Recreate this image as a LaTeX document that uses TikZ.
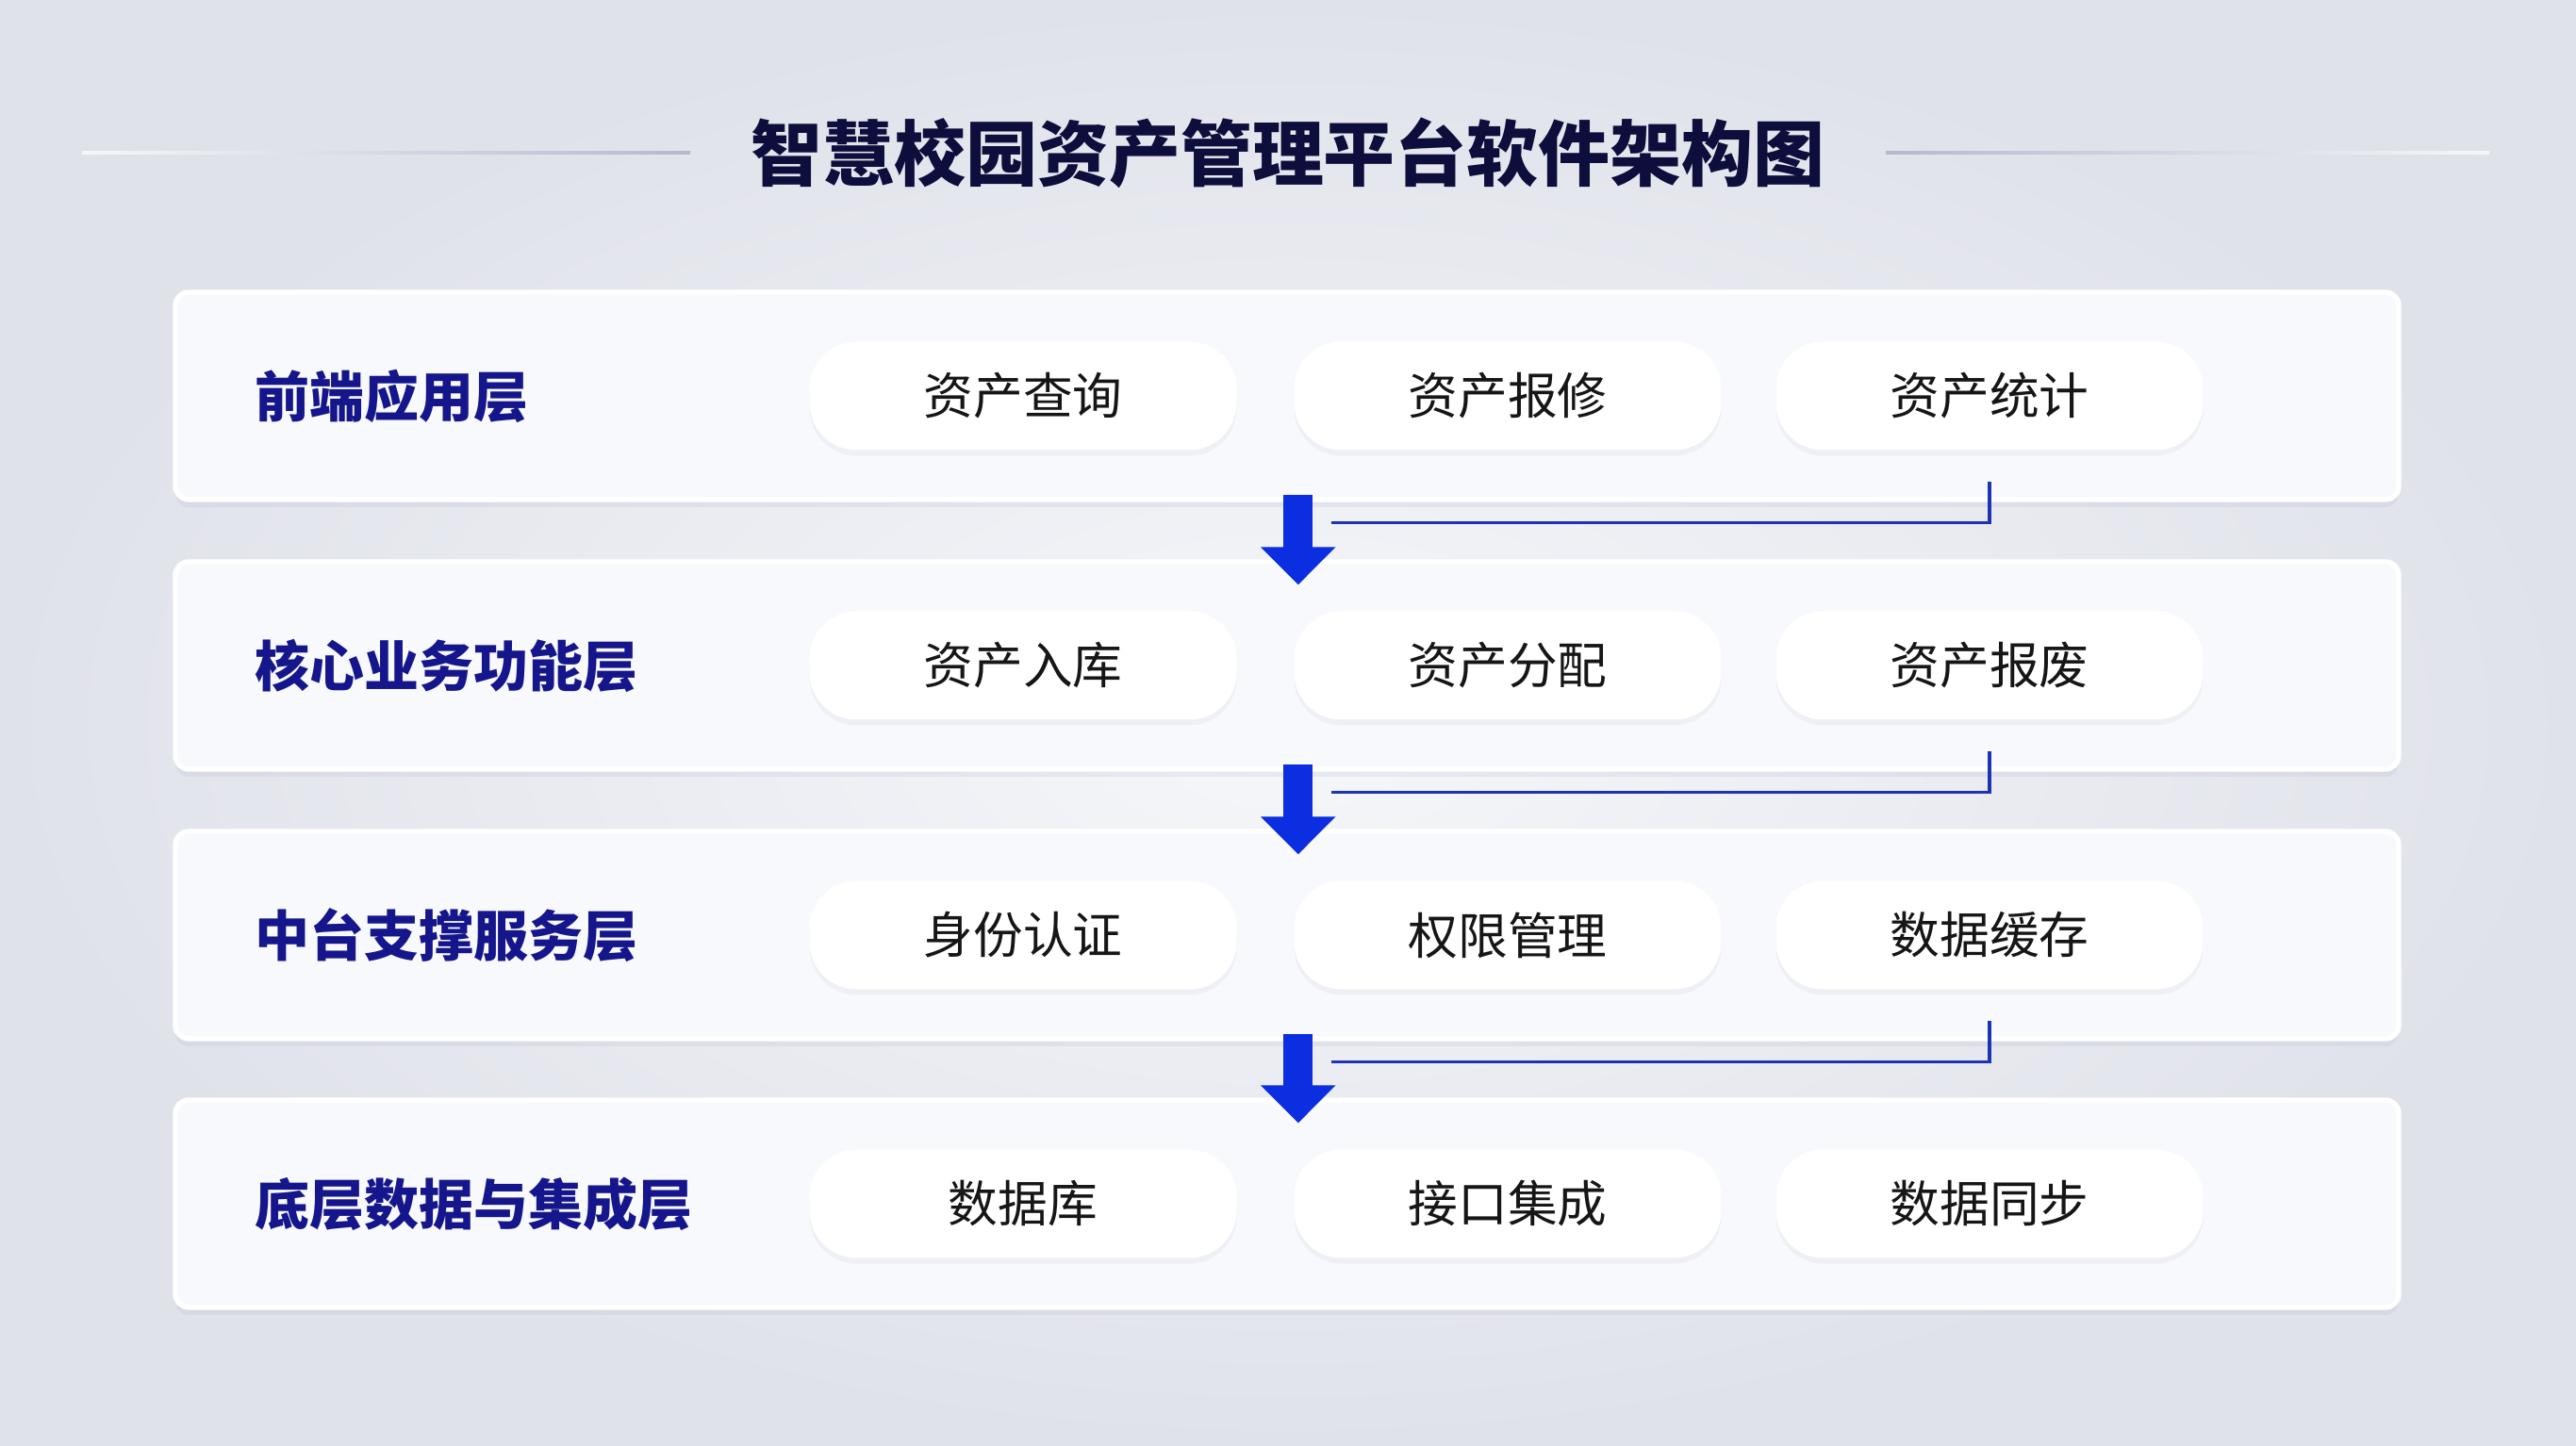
\documentclass[tikz,border=0pt]{standalone}
\usepackage{fontspec}
\setmainfont{Noto Sans CJK SC}
\usetikzlibrary{arrows.meta,shadows,calc}
\definecolor{bgin}{HTML}{F6F7FA}
\definecolor{bgout}{HTML}{E0E2EA}
\definecolor{boxfill}{HTML}{F8F9FC}
\definecolor{shadowcol}{HTML}{A4A8C4}
\definecolor{titleink}{HTML}{0E0E3C}
\definecolor{labelblue}{HTML}{16168C}
\definecolor{pilltext}{HTML}{161616}
\definecolor{arrowblue}{HTML}{0A2EE0}
\definecolor{lineblue}{HTML}{1C34B4}
\definecolor{rulegray}{HTML}{B5B9CD}
\begin{document}
\begin{tikzpicture}[
    layerbox/.style={draw=white, line width=1.5pt, fill=boxfill, rounded corners=0.14cm,
      minimum width=23.58cm, minimum height=2.2cm,
      drop shadow={opacity=0.16, shadow xshift=0cm, shadow yshift=-0.08cm, fill=shadowcol}},
    layername/.style={anchor=west, inner sep=0pt, text=labelblue, font=\bfseries\fontsize{16.5pt}{20pt}\selectfont},
    pill/.style={fill=white, rounded corners=0.5cm, minimum width=4.53cm, minimum height=1.15cm,
      text=pilltext, font=\fontsize{15pt}{18pt}\selectfont,
      drop shadow={opacity=0.10, shadow xshift=0cm, shadow yshift=-0.06cm, fill=shadowcol}},
    bigarrow/.style={draw=arrowblue, line width=0.31cm, -{Triangle[width=0.77cm,length=0.4cm]}},
    feedline/.style={draw=lineblue, line width=0.035cm},
  ]
    \useasboundingbox (0,0) rectangle (27.32,-15.34);
    \shade [inner color=bgin, outer color=bgout] (0,0) rectangle (27.32,-15.34);

    % title
    \node [text=titleink, font=\bfseries\fontsize{21.6pt}{26pt}\selectfont] (title) at (13.66,-1.62) {智慧校园资产管理平台软件架构图};
    \shade [left color=bgin, right color=rulegray] (0.87,-1.605) rectangle (7.32,-1.635);
    \shade [left color=rulegray, right color=bgin] (20.00,-1.605) rectangle (26.40,-1.635);

    % layer 1
    \node [layerbox] (lay1) at (13.65,-4.20) {};
    \node [layername] (name1) at (2.70,-4.20) {前端应用层};
    \node [pill] (p11) at (10.85,-4.20) {资产查询};
    \node [pill] (p12) at (15.99,-4.20) {资产报修};
    \node [pill] (p13) at (21.10,-4.20) {资产统计};

    % layer 2
    \node [layerbox] (lay2) at (13.65,-7.06) {};
    \node [layername] (name2) at (2.70,-7.06) {核心业务功能层};
    \node [pill] (p21) at (10.85,-7.06) {资产入库};
    \node [pill] (p22) at (15.99,-7.06) {资产分配};
    \node [pill] (p23) at (21.10,-7.06) {资产报废};

    % layer 3
    \node [layerbox] (lay3) at (13.65,-9.92) {};
    \node [layername] (name3) at (2.70,-9.92) {中台支撑服务层};
    \node [pill] (p31) at (10.85,-9.92) {身份认证};
    \node [pill] (p32) at (15.99,-9.92) {权限管理};
    \node [pill] (p33) at (21.10,-9.92) {数据缓存};

    % layer 4
    \node [layerbox] (lay4) at (13.65,-12.77) {};
    \node [layername] (name4) at (2.70,-12.77) {底层数据与集成层};
    \node [pill] (p41) at (10.85,-12.77) {数据库};
    \node [pill] (p42) at (15.99,-12.77) {接口集成};
    \node [pill] (p43) at (21.10,-12.77) {数据同步};

    % flow between layers
    \draw [bigarrow] ($(lay1.south -| p12.west)+(0.05,0.08)$) -- ($(lay2.north -| p12.west)+(0.05,-0.27)$);
    \draw [feedline] ($(p13.south)+(0,-0.33)$) |- ($(lay1.south -| p12.west)+(0.40,-0.22)$);
    \draw [bigarrow] ($(lay2.south -| p22.west)+(0.05,0.08)$) -- ($(lay3.north -| p22.west)+(0.05,-0.27)$);
    \draw [feedline] ($(p23.south)+(0,-0.33)$) |- ($(lay2.south -| p22.west)+(0.40,-0.22)$);
    \draw [bigarrow] ($(lay3.south -| p32.west)+(0.05,0.08)$) -- ($(lay4.north -| p32.west)+(0.05,-0.27)$);
    \draw [feedline] ($(p33.south)+(0,-0.33)$) |- ($(lay3.south -| p32.west)+(0.40,-0.22)$);
\end{tikzpicture}
\end{document}
